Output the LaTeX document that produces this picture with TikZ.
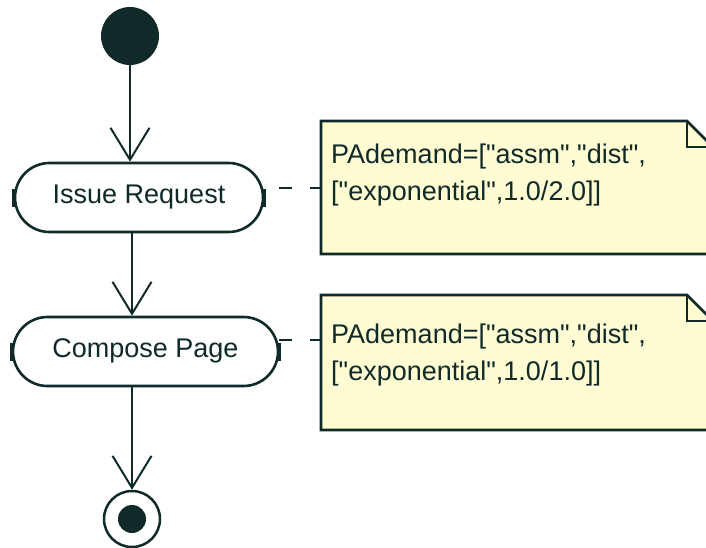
\documentclass[tikz,border=0pt]{standalone}
\usepackage{fontspec}
\setmainfont{Liberation Sans}[Ligatures=TeXOff]
\usetikzlibrary{arrows.meta,shapes.misc}
\definecolor{ink}{HTML}{102A2A}
\definecolor{notefill}{HTML}{FFFBD2}
\begin{document}
\begin{tikzpicture}[x=1pt,y=-1pt,
  every node/.style={font=\fontsize{27}{37}\selectfont, text=ink},
  activity/.style={draw=ink, line width=2.6pt, fill=white, rounded rectangle,
    inner sep=0pt, minimum height=69pt, text height=19.5pt, text depth=8.5pt},
  flow/.style={draw=ink, line width=2pt,
    -{Straight Barb[length=32pt,width=39pt,line width=2pt]}},
  link/.style={draw=ink, line width=2.4pt, dash pattern=on 11pt off 18pt on 13pt off 40pt},
  notebody/.style={draw=ink, line width=2.6pt, fill=notefill, line join=miter},
  fold/.style={draw=ink, line width=2.6pt, line join=miter},
  port/.style={draw=ink, line width=3.5pt},
  notetext/.style={anchor=north west, align=left, inner sep=0pt},
]
\useasboundingbox (0,0) rectangle (706,547);
\clip (0,0) rectangle (706,547);

% notes (dog-eared comment boxes)
\path[notebody] (321,121) -- (687,121) -- (713,147) -- (713,254) -- (321,254) -- cycle;
\draw[fold] (687,121) -- (687,147) -- (713,147);
\node[notetext] (note1) at (331,143.5) {PAdemand=["assm","dist",\\{[}"exponential",1.0/2.0]]};
\coordinate (note1port) at (321,188);

\path[notebody] (321,295) -- (687,295) -- (713,321) -- (713,430) -- (321,430) -- cycle;
\draw[fold] (687,295) -- (687,321) -- (713,321);
\node[notetext] (note2) at (331,323.5) {PAdemand=["assm","dist",\\{[}"exponential",1.0/1.0]]};
\coordinate (note2port) at (321,340);

% activity flow
\coordinate (spine) at (132,0);
\node[circle, fill=ink, minimum size=58pt, inner sep=0pt] (start) at (130,36) {};
\node[activity, minimum width=248pt] (act1) at (139,197.5) {Issue Request};
\node[activity, minimum width=265pt] (act2) at (145.5,351.5) {Compose Page};
\node[circle, draw=ink, line width=2.5pt, fill=white, minimum size=56pt, inner sep=0pt] (stop) at (132,519) {};
\node[circle, fill=ink, minimum size=28pt, inner sep=0pt] (stopdot) at (stop) {};

\draw[flow] (start) -- (start |- act1.north);
\draw[flow] (act1.south -| spine) -- (act2.north -| spine);
\draw[flow] (act2.south -| stop) -- (stop);

% port marks on the activities
\foreach \a in {act1,act2}{
  \draw[port] ([yshift=-9pt]\a.west) -- ([yshift=9pt]\a.west);
  \draw[port] ([yshift=-9pt]\a.east) -- ([yshift=9pt]\a.east);
}

% note attachments, dashed from the note towards the activity
\draw[link] (note1port) -- (act1.east |- note1port);
\draw[link] (note2port) -- (act2.east |- note2port);
\end{tikzpicture}
\end{document}
